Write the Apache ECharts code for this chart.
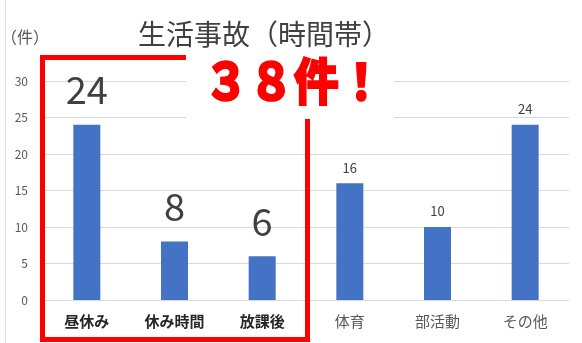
<!DOCTYPE html>
<html><head><meta charset="utf-8">
<script src="https://cdn.jsdelivr.net/npm/echarts@6/dist/echarts.min.js"></script>
<style>html,body{margin:0;padding:0;background:#fff}#c{width:582px;height:343px}</style>
</head><body><div id="c"></div>
<script>
const categories = ['昼休み', '休み時間', '放課後', '体育', '部活動', 'その他'];
const values = [24, 8, 6, 16, 10, 24];
const highlighted = [true, true, true, false, false, false];
const titleText = '生活事故（時間帯）';
const unitText = '（件）';
const calloutText = '３８件！';
const yMin = 0, yMax = 30, yInterval = 5;

const FONT = '"Noto Sans CJK JP", "Noto Sans", sans-serif';
const chart = echarts.init(document.getElementById('c'), null, {renderer: 'canvas'});

const seriesData = values.map((v, i) => ({
  value: v,
  label: highlighted[i]
    ? {fontSize: 38, color: '#404040', distance: 16}
    : {fontSize: 13, color: '#404040', distance: 9}
}));

chart.setOption({
  animation: false,
  backgroundColor: '#fff',
  title: {
    text: titleText, left: 133, top: 15,
    textStyle: {fontFamily: FONT, fontSize: 28, fontWeight: 'normal', color: '#404040'}
  },
  grid: {left: 43, right: 13, top: 81, bottom: 43, containLabel: false},
  xAxis: {
    type: 'category', data: categories,
    axisLine: {lineStyle: {color: '#d9d9d9'}},
    axisTick: {show: false},
    axisLabel: {
      margin: 14,
      formatter: (v, i) => highlighted[i] ? '{b|' + v + '}' : '{n|' + v + '}',
      rich: {
        b: {fontFamily: FONT, fontSize: 15, fontWeight: 'bold', color: '#262626'},
        n: {fontFamily: FONT, fontSize: 15, color: '#595959'}
      }
    }
  },
  yAxis: {
    type: 'value', min: yMin, max: yMax, interval: yInterval,
    axisLine: {show: false}, axisTick: {show: false},
    splitLine: {lineStyle: {color: '#d9d9d9'}},
    axisLabel: {margin: 15, fontFamily: FONT, fontSize: 12, color: '#595959'}
  },
  series: [{
    type: 'bar', data: seriesData, barWidth: 27,
    itemStyle: {color: '#4472C4'},
    label: {show: true, position: 'top', fontFamily: FONT}
  }],
  graphic: [
    {type: 'line', z: 50, shape: {x1: 5.5, y1: 0, x2: 5.5, y2: 343}, style: {stroke: '#e0e0e0', lineWidth: 1}},
    {type: 'rect', z: 100, shape: {x: 42.5, y: 57.5, width: 265, height: 282},
      style: {fill: null, stroke: '#ff0000', lineWidth: 5}},
    {type: 'rect', z: 101, shape: {x: 186, y: 50, width: 208, height: 69},
      style: {fill: '#ffffff'}},
    {type: 'text', z: 102, left: 203, top: 55, scaleY: 1.12,
      style: {text: calloutText, font: '900 45px ' + FONT, fill: '#ff0000', stroke: '#ff0000', lineWidth: 1.5}},
    {type: 'text', z: 102, left: 1, top: 29,
      style: {text: unitText, font: '16px ' + FONT, fill: '#595959'}}
  ]
});
</script></body></html>
